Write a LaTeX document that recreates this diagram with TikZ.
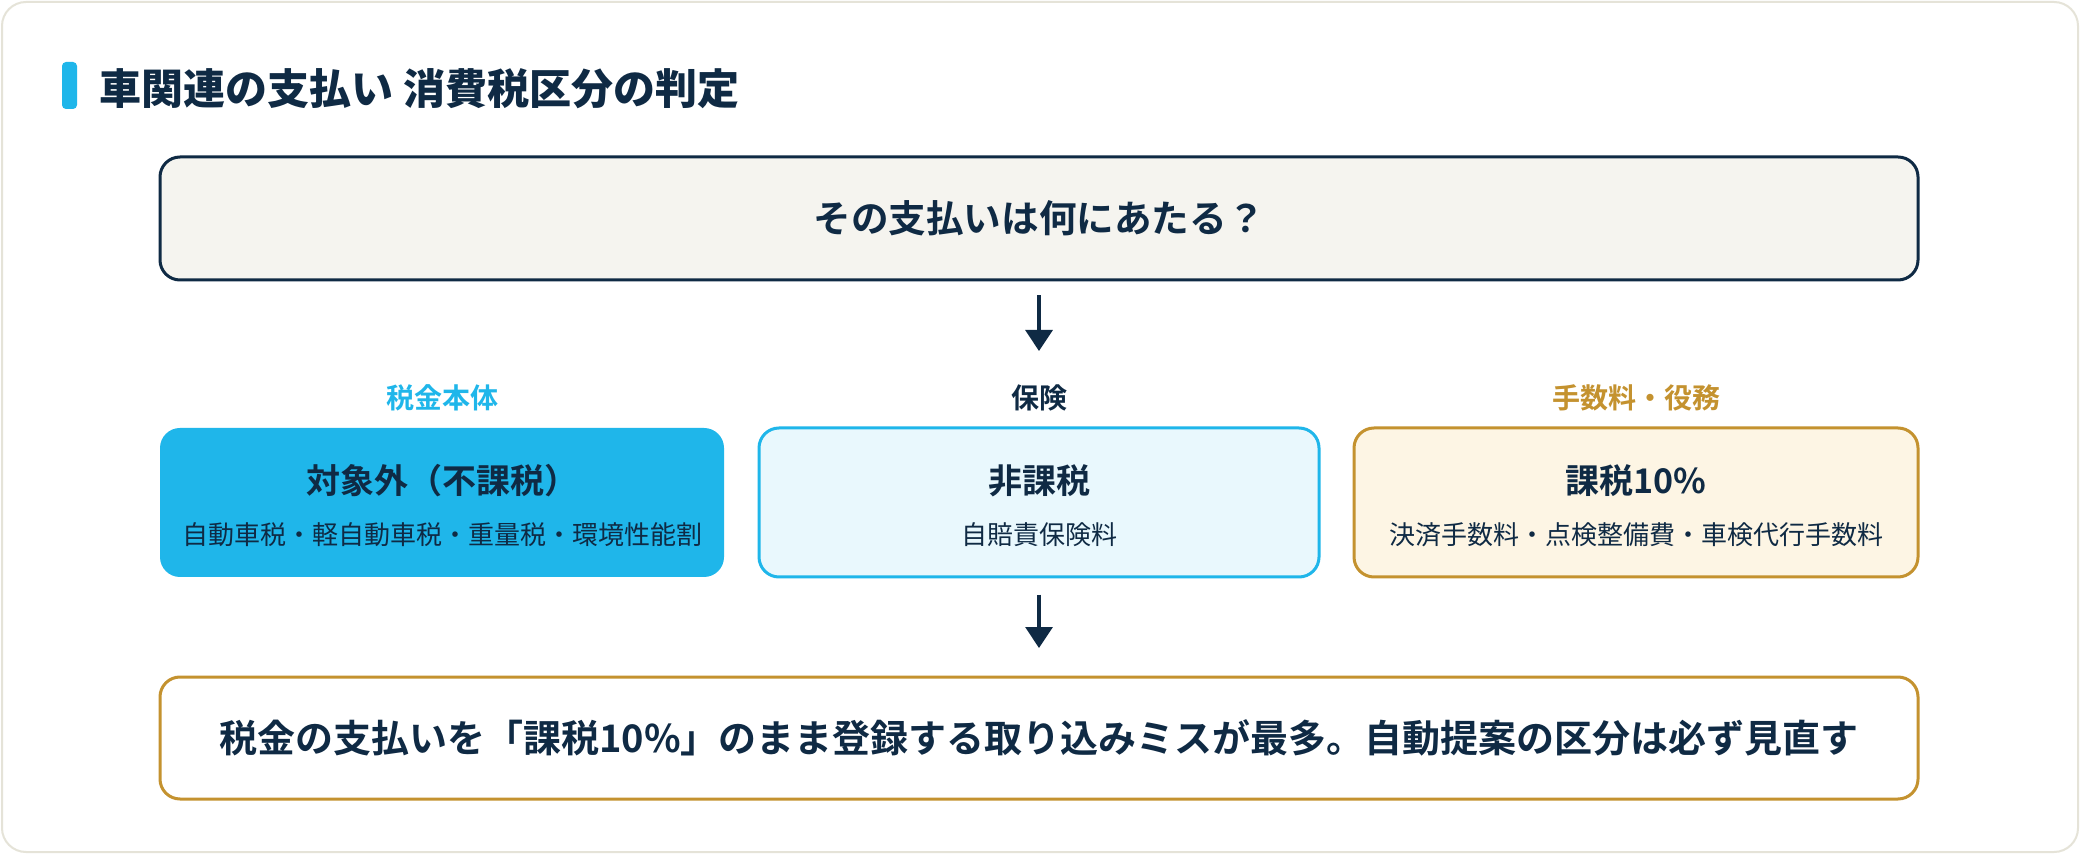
\documentclass[tikz,border=0pt]{standalone}
\usepackage{fontspec}
\setmainfont{Noto Sans CJK JP}[BoldFont={Noto Sans CJK JP Bold}]
\newfontfamily\jpblack{Noto Sans CJK JP Black}
\usetikzlibrary{arrows.meta}
\definecolor{navy}{HTML}{0F2A44}
\definecolor{cyanc}{HTML}{1FB6EA}
\definecolor{lightblue}{HTML}{E9F8FD}
\definecolor{gold}{HTML}{C4922F}
\definecolor{cream}{HTML}{FDF5E4}
\definecolor{qfill}{HTML}{F5F4EF}
\definecolor{cardline}{HTML}{E5E3D8}
\tikzset{
  box/.style={rectangle, rounded corners=10pt, line width=1.5pt, inner sep=0pt},
  bigtext/.style={font=\bfseries\fontsize{18.8}{22}\selectfont, text=navy},
  boxtitle/.style={font=\bfseries\fontsize{17}{20}\selectfont, text=navy, inner sep=0pt},
  boxsub/.style={font=\fontsize{13}{16}\selectfont, text=navy, inner sep=0pt},
  catlabel/.style={font=\bfseries\fontsize{14}{17}\selectfont, inner sep=0pt},
  arr/.style={line width=1.6pt, draw=navy, -{Triangle[width=13.5pt,length=10.5pt]}}
}
\begin{document}
\begin{tikzpicture}[x=0.5pt,y=-0.5pt]
\useasboundingbox (0,0) rectangle (2080,854);
\fill[white] (0,0) rectangle (2080,854);
\draw[cardline, line width=1pt, rounded corners=12pt] (2,2) rectangle (2078,852);
% title
\fill[cyanc, rounded corners=2pt] (62,62) rectangle (77,109);
\node[anchor=west, inner sep=0pt, font=\jpblack\fontsize{21}{24}\selectfont, text=navy] (title) at (99,89) {車関連の支払い 消費税区分の判定};
% question
\node[box, draw=navy, fill=qfill, minimum width=879pt, minimum height=61.5pt, bigtext] (q) at (1039,218.5) {その支払いは何にあたる？};
\coordinate (a1end) at (1039,351);
\draw[arr] ([yshift=-7pt]q.south) -- (a1end);
% category labels
\node[catlabel, text=cyanc] (la) at (442,398) {税金本体};
\node[catlabel, text=navy] (lb) at (1039,398) {保険};
\node[catlabel, text=gold] (lc) at (1636,398) {手数料・役務};
% three boxes
\node[box, fill=cyanc, minimum width=282pt, minimum height=74.5pt] (ba) at (442,502.5) {};
\node[box, draw=cyanc, fill=lightblue, minimum width=280pt, minimum height=74.5pt] (bb) at (1039,502.5) {};
\node[box, draw=gold, fill=cream, minimum width=282pt, minimum height=74.5pt] (bc) at (1636,502.5) {};
\node[boxtitle] (ta) at (442,481) {対象外（不課税）};
\node[boxsub] (sa) at (442,535) {自動車税・軽自動車税・重量税・環境性能割};
\node[boxtitle] (tb) at (1039,481) {非課税};
\node[boxsub] (sb) at (1039,535) {自賠責保険料};
\node[boxtitle] (tc) at (1636,481) {課税10\%};
\node[boxsub] (sc) at (1636,535) {決済手数料・点検整備費・車検代行手数料};
% arrow 2
\coordinate (a2end) at (1039,648);
\draw[arr] ([yshift=-8pt]bb.south) -- (a2end);
% bottom box
\node[box, draw=gold, fill=white, minimum width=879pt, minimum height=61pt, font=\bfseries\fontsize{19}{22}\selectfont, text=navy] (bot) at (1039,738) {税金の支払いを「課税10\%」のまま登録する取り込みミスが最多。自動提案の区分は必ず見直す};
\end{tikzpicture}
\end{document}
